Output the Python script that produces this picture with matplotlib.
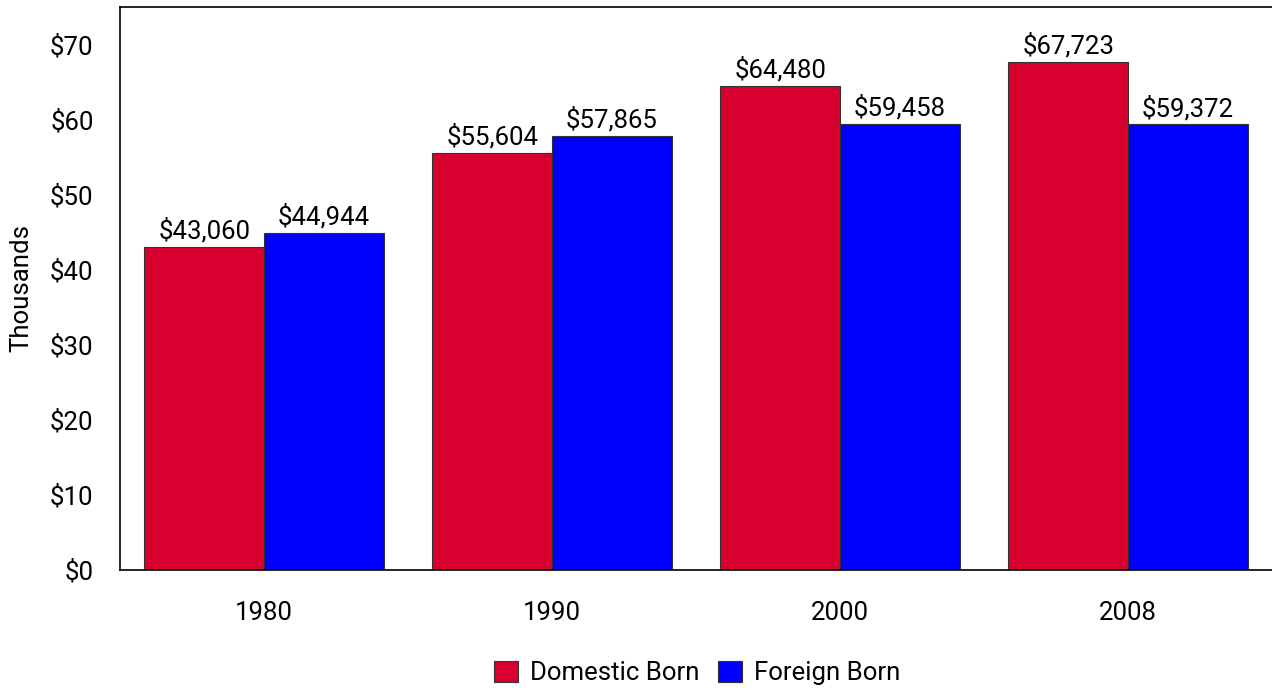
import matplotlib
matplotlib.use("Agg")
import matplotlib.pyplot as plt
import numpy as np

years = ["1980", "1990", "2000", "2008"]
domestic = [43060, 55604, 64480, 67723]
foreign = [44944, 57865, 59458, 59372]
series_names = ["Domestic Born", "Foreign Born"]
yticks = [0, 10, 20, 30, 40, 50, 60, 70]

plt.rcParams['font.family'] = ['Roboto', 'DejaVu Sans']
FS = 18.5

fig = plt.figure(figsize=(12.72, 6.9), dpi=100)
ax = fig.add_axes([120/1272, 1-570/690, 1-120/1272, (570-7)/690])

x = np.arange(len(years))
w = 0.415
d = [v/1000 for v in domestic]
f = [v/1000 for v in foreign]
b1 = ax.bar(x - w/2, d, w, color="#D7002F", edgecolor="#333333", linewidth=0.8, label=series_names[0])
b2 = ax.bar(x + w/2, f, w, color="#0000FF", edgecolor="#333333", linewidth=0.8, label=series_names[1])

for bars, vals in ((b1, domestic), (b2, foreign)):
    for rect, v in zip(bars, vals):
        ax.text(rect.get_x() + rect.get_width()/2, rect.get_height() + 0.4,
                f"${v:,}", ha="center", va="bottom", fontsize=FS)

ax.set_xlim(-0.5, 3.5)
ax.set_ylim(0, 75)
ax.set_yticks(yticks)
ax.set_yticklabels([f"${t}" for t in yticks])
ax.set_xticks(x)
ax.set_xticklabels(years)
ax.tick_params(axis='both', length=0, labelsize=FS)
ax.tick_params(axis='y', pad=19)
ax.tick_params(axis='x', pad=22)
ax.spines['right'].set_visible(False)
for s in ('left', 'bottom', 'top'):
    ax.spines[s].set_linewidth(1.2)
ax.set_ylabel("Thousands", fontsize=FS, labelpad=12)

leg = fig.legend(loc="center", bbox_to_anchor=(0.548, 1-673/690), ncol=2, frameon=False,
                 fontsize=FS, handlelength=0.93, handleheight=0.93, handletextpad=0.47,
                 columnspacing=0.7, borderpad=0)

fig.savefig("out.png", dpi=100)
